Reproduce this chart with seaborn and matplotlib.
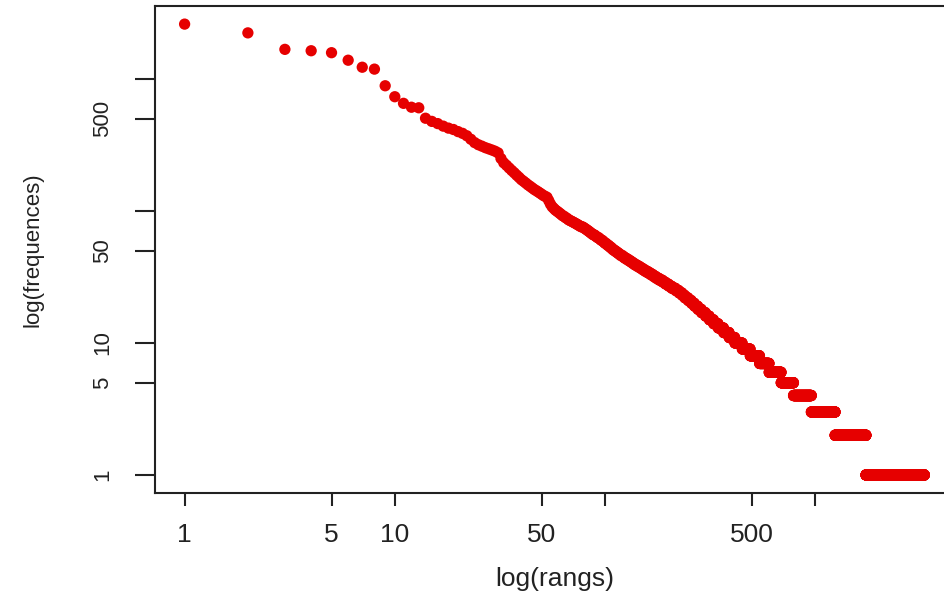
import numpy as np
import pandas as pd
import seaborn as sns
import matplotlib
matplotlib.use("Agg")
import matplotlib.pyplot as plt

# frequencies of the most frequent words (ranks 1..110)
head_freq = [2610, 2240, 1680, 1640, 1585, 1390, 1230, 1190, 890, 735,
             655, 612, 606, 505, 478, 460, 440, 425, 415, 400,
             388, 372, 350, 330, 318, 310, 302, 296, 290, 284,
             276, 250, 232, 222, 212, 203, 195, 187, 180, 173,
             168, 163, 158, 154, 150, 146, 143, 140, 137, 134,
             131, 129, 127, 120, 113, 108, 105, 102, 100, 98,
             96, 94, 92, 91, 89, 88, 86, 85, 84, 83,
             82, 81, 80, 79, 78, 77, 76, 76, 75, 74,
             73, 72, 71, 70, 69, 68, 67, 66, 66, 65,
             64, 63, 63, 62, 61, 60, 60, 59, 58, 57,
             57, 56, 55, 55, 54, 53, 53, 52, 51, 51]

# low frequencies: how many words share each frequency value
tail_freq = [50, 49, 48, 47, 46, 45, 44, 43, 42, 41, 40, 39, 38, 37, 36, 35,
             34, 33, 32, 31, 30, 29, 28, 27, 26, 25, 24, 23, 22, 21, 20, 19,
             18, 17, 16, 15, 14, 13, 12, 11, 10, 9, 8, 7, 6, 5, 4, 3, 2, 1]
tail_words = [2, 2, 2, 2, 3, 2, 3, 3, 3, 3, 3, 4, 4, 4, 4, 5,
              5, 5, 5, 6, 7, 6, 7, 7, 9, 8, 8, 7, 9, 9, 9, 10,
              11, 13, 13, 15, 17, 21, 23, 25, 35, 41, 53, 60, 85, 100, 170, 285, 500, 1560]

tick_vals = [1, 5, 10, 50, 100, 500, 1000]
tick_labels = ["1", "5", "10", "50", "", "500", ""]

freq = np.concatenate([head_freq, np.repeat(tail_freq, tail_words)])
df = pd.DataFrame({"rang": np.arange(1, len(freq) + 1), "frequence": freq})

sns.set_theme(style="white")
plt.rcParams["font.family"] = ["Liberation Sans", "DejaVu Sans"]

fig = plt.figure(figsize=(9.44, 5.98), dpi=100)
ax = fig.add_axes([155 / 944, 105 / 598, 799 / 944, 487 / 598])

sns.scatterplot(data=df, x="rang", y="frequence", ax=ax, color="#e60000",
                s=66, linewidth=0, edgecolor="none", legend=False)

ax.set_xscale("log")
ax.set_yscale("log")
ax.set_xlim(0.723, 4575)
ax.set_ylim(0.73, 3580)

ax.set_xticks(tick_vals)
ax.set_xticklabels(tick_labels, fontsize=19, color="#222222")
ax.set_yticks(tick_vals)
ax.set_yticklabels(tick_labels, fontsize=16, color="#222222", rotation=90, va="center")
ax.minorticks_off()

ax.tick_params(axis="x", direction="out", length=9.4, width=1.5, pad=12,
               color="#222222", bottom=True)
ax.tick_params(axis="y", direction="out", length=14.4, width=1.5, pad=16,
               color="#222222", left=True)

for sp in ax.spines.values():
    sp.set_color("#222222")
    sp.set_linewidth(1.5)

ax.set_xlabel("log(rangs)", fontsize=19, color="#222222")
ax.set_ylabel("log(frequences)", fontsize=16, color="#222222")
ax.xaxis.set_label_coords(0.5, -0.152)
ax.yaxis.set_label_coords(-0.140, 0.5)

fig.savefig("out.png", dpi=100)
